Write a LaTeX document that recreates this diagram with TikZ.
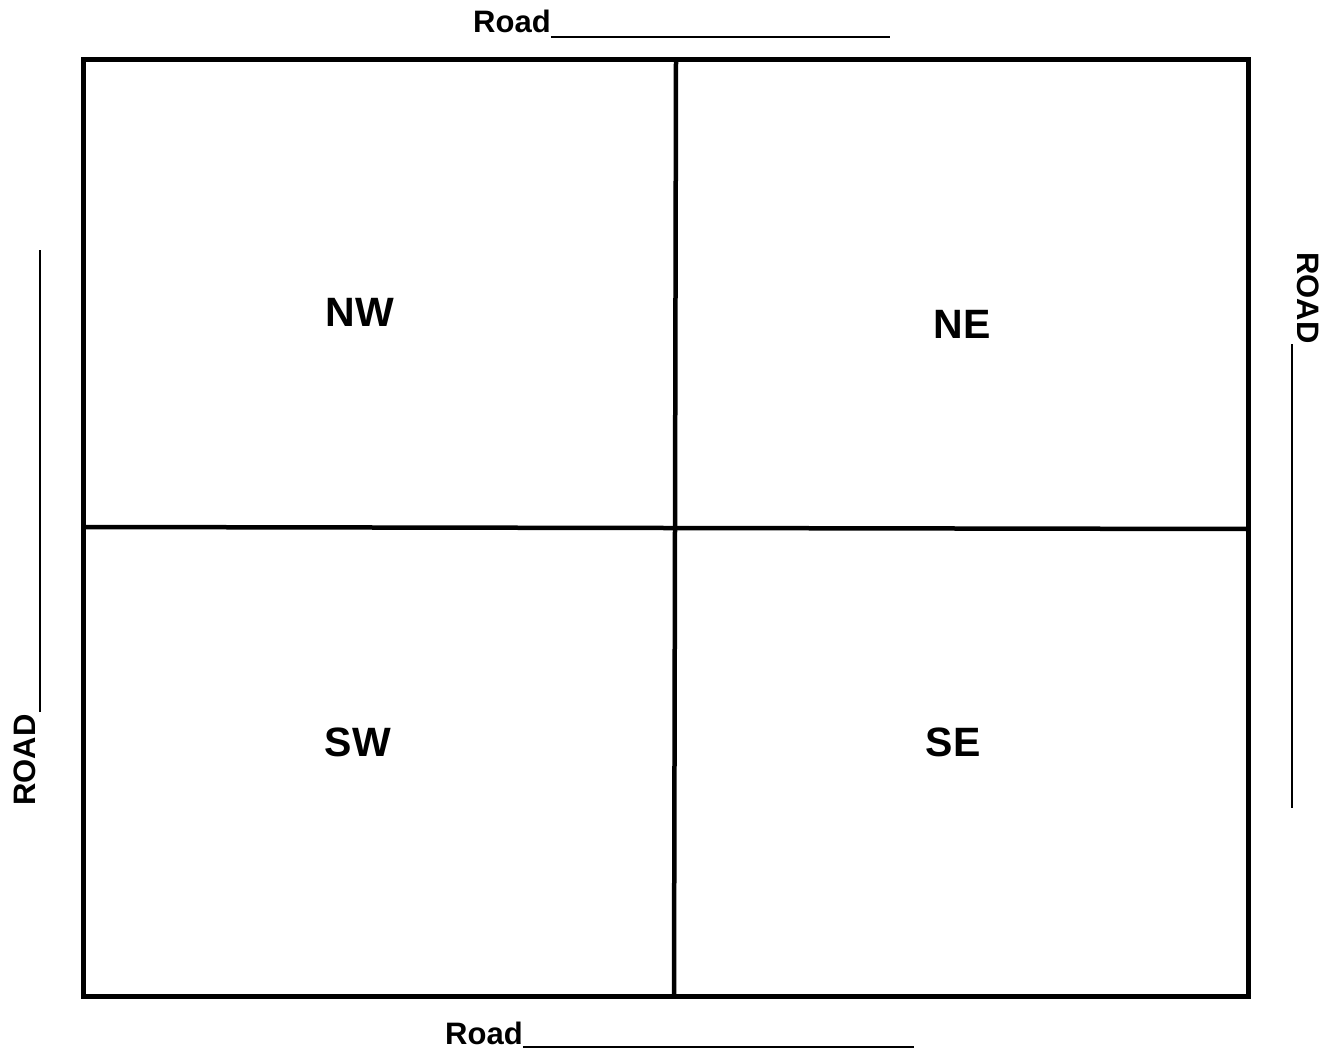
\documentclass[tikz,border=0pt]{standalone}
\usepackage{fontspec}
\setmainfont{Liberation Sans}
\begin{document}
\begin{tikzpicture}[x=1pt,y=-1pt,
  quad/.style={font=\fontsize{41}{47}\selectfont\bfseries, inner sep=0pt, anchor=base},
  road/.style={font=\fontsize{31}{36}\selectfont\bfseries, inner sep=0pt},
  blank/.style={line width=2pt},
  frame/.style={line width=5pt}]
\useasboundingbox (0,0) rectangle (1333,1051);
% frame
\draw[frame, line join=miter] (83,60) rectangle (1248,996);
\coordinate (vt) at (676,60);
\coordinate (vb) at (674,996);
\coordinate (hl) at (83,527);
\coordinate (hr) at (1248,529);
\draw[line width=4.5pt] (vt) -- (vb);
\draw[line width=4.5pt] (hl) -- (hr);
% quadrant labels
\node[quad] (nw) at (360,326) {NW};
\node[quad] (ne) at (962,338) {NE};
\node[quad] (sw) at (358,756) {SW};
\node[quad] (se) at (953,756) {SE};
% top road
\node[road, anchor=base west] (rtop) at (473,33) {Road};
\coordinate (rtopend) at (890,37);
\draw[blank] (rtop.base east) ++(0,4) coordinate (rtopstart) -- (rtopend);
% bottom road
\node[road, anchor=base west] (rbot) at (445,1044) {Road};
\coordinate (rbotend) at (914,1047);
\draw[blank] (rbot.base east) ++(0,3) coordinate (rbotstart) -- (rbotend);
% left road
\node[road, anchor=base west, rotate=90] (rleft) at (35,806) {ROAD};
\coordinate (rleftend) at (40,250);
\draw[blank] (40,712) coordinate (rleftstart) -- (rleftend);
% right road
\node[road, anchor=base west, rotate=-90] (rright) at (1297,252) {ROAD};
\coordinate (rrightend) at (1292,808);
\draw[blank] (1292,344) coordinate (rrightstart) -- (rrightend);
\end{tikzpicture}
\end{document}
